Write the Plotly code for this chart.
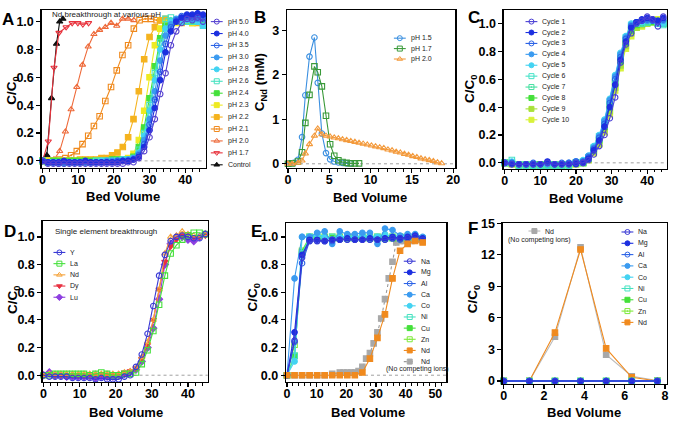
import plotly.graph_objects as go

W, H = 674, 423

# ---------------- Panel A data ----------------
A_x = [0,1.5,3,4.5,6,7.5,9,10.5,12,13.5,15,16.5,18,19.5,21,22.5,24,25.5,27,28.5,30,31.5,33,34.5,36,37.5,39,40.5,42,43.5,45]
A_ph50 = [0,-0.02,-0.02,-0.02,-0.02,-0.02,-0.02,-0.02,-0.02,-0.02,-0.02,-0.02,-0.02,-0.02,-0.02,-0.02,
          -0.01,-0.01,0.02,0.07,0.17,0.30,0.48,0.63,0.83,0.93,0.99,1.02,1.01,1.03,1.00]
A_ph40 = [0,-0.01,-0.01,-0.01,0,-0.01,-0.01,-0.01,0,-0.01,-0.01,-0.01,-0.01,-0.01,-0.01,0,
          0,0.01,0.03,0.10,0.22,0.38,0.58,0.78,0.93,1.00,1.03,1.05,1.05,1.06,1.05]
A_ph35 = [0,-0.01,-0.01,-0.02,-0.01,-0.01,-0.01,-0.01,-0.01,-0.01,-0.01,-0.01,-0.01,-0.01,0,0,
          0,0.01,0.04,0.12,0.26,0.44,0.64,0.84,0.96,1.01,1.04,1.04,1.04,1.03,1.03]
A_ph30 = [0,-0.01,-0.01,-0.01,-0.01,-0.01,-0.01,-0.01,-0.01,-0.01,-0.01,-0.01,0,0,0,0,
          0.01,0.02,0.05,0.15,0.30,0.50,0.72,0.90,0.98,1.02,1.03,1.03,1.02,1.02,1.02]
A_ph28 = [0,-0.01,-0.01,-0.01,-0.02,-0.01,-0.01,-0.01,-0.01,-0.01,-0.01,0,0,0,0,0.01,
          0.01,0.02,0.06,0.18,0.36,0.58,0.80,0.95,1.00,1.01,1.00,1.01,1.01,1.00,0.97]
A_ph26 = [0,-0.01,-0.01,-0.01,-0.01,-0.01,-0.01,-0.01,-0.01,-0.01,0,0,0,0,0,0.01,
          0.01,0.02,0.08,0.20,0.40,0.63,0.85,1.02,1.03,1.01,1.00,1.00,1.00,1.00,0.97]
A_ph24 = [0,-0.01,0,0,-0.01,0,0,0,0,0,0,0,0,0.01,0.01,0.01,
          0.01,0.03,0.10,0.24,0.45,0.68,0.88,0.97,1.00,1.01,1.00,1.01,1.00,1.00,1.00]
A_ph23 = [0,0,0,0,0,0,0,0,0,0,0,0,0,0,0.01,0.01,
          0.02,0.05,0.15,0.36,0.60,0.83,0.95,0.99,1.00,0.99,1.00,1.00,0.99,1.00,0.99]
A_ph22 = [0,0,0,0,0,0,0,0.01,0.01,0.01,0.01,0.02,0.02,0.04,0.06,0.10,
          0.17,0.30,0.50,0.73,0.89,0.96,1.01,1.02,1.00,1.00,0.99,1.00,0.99,0.99,0.99]
A_ph21_x = [0,1.6,3.2,4.8,6.4,8.0,9.6,11.2,12.8,14.4,16.0,17.6,19.2,20.8,22.4,24.0,25.6,27.2,28.8,30.4,32.0,33.6]
A_ph21 = [0,0,0,0.01,0.02,0.04,0.07,0.12,0.18,0.25,0.32,0.43,0.53,0.65,0.76,0.83,0.95,1.01,1.02,1.02,1.01,1.01]
A_ph20_x = [0,1.6,3.2,4.8,6.4,8.0,9.6,11.2,12.8,14.4,16.0,17.6,19.2,20.8,22.4,24.0,25.6]
A_ph20 = [0,0,0.01,0.07,0.21,0.37,0.53,0.69,0.82,0.91,0.94,0.96,0.99,0.97,1.02,1.02,1.01]
A_ph17_x = [0,1.6,3.2,4.6,6.6,8.3,9.9,11.3,12.9]
A_ph17 = [0,0.14,0.67,0.92,0.96,0.99,0.99,0.98,0.99]
A_ctrl_x = [0,1.2,2.5,3.9,4.8,5.7]
A_ctrl = [0,0.04,0.45,0.84,1.00,1.02]
A_names = ["pH 5.0","pH 4.0","pH 3.5","pH 3.0","pH 2.8","pH 2.6","pH 2.4","pH 2.3","pH 2.2","pH 2.1","pH 2.0","pH 1.7","Control"]

# ---------------- Panel B data ----------------
B_15_x = [0,0.3,0.7,1.2,1.7,2.1,2.6,3.2,3.6,4.1,4.6,5.1,5.6,6.1,6.6,7.1,7.6]
B_15 = [0,0.01,0.02,0.09,0.60,1.54,2.41,2.84,1.82,0.68,0.24,0.10,0.05,0.03,0.02,0.01,0.01]
B_17_x = [0,0.5,1.2,1.7,2.1,2.6,3.2,3.6,4.1,4.6,5.1,5.6,6.1,6.6,7.1,7.6,8.1,8.6]
B_17 = [0,0.01,0.05,0.26,0.92,1.55,2.19,2.06,1.74,1.08,0.44,0.18,0.08,0.04,0.02,0.01,0.01,0.01]
B_20_x = [0,0.5,1.2,1.7,2.1,2.6,3.2,3.6,4.1,4.6,5.1,5.6,6.1,6.6,7.1,7.6,8.1,8.6,9.1,9.6,10.1,10.6,
          11.1,11.6,12.1,12.6,13.1,13.6,14.1,14.6,15.1,15.6,16.1,16.6,17.1,17.6,18.1,18.6]
B_20 = [0,0,0.02,0.07,0.23,0.44,0.63,0.79,0.66,0.63,0.61,0.59,0.57,0.55,0.53,0.51,0.49,0.47,0.45,0.43,
        0.41,0.39,0.37,0.35,0.32,0.30,0.27,0.25,0.22,0.20,0.17,0.15,0.12,0.10,0.08,0.06,0.03,0.01]
B_names = ["pH 1.5","pH 1.7","pH 2.0"]

# ---------------- Panel C data ----------------
C_x = [0,2,4,6,8,10,12,14,16,18,20,22,23.5,25,26.5,28,29.5,31,32.5,34,35.5,37,38.5,40,41.5,43,44.5]
C_c1 = [0,-0.01,-0.01,-0.01,-0.01,-0.01,0,-0.01,-0.01,-0.01,0,0, 0.02,0.06,0.12,0.20,0.32,0.47,0.72,0.85,0.93,1.00,1.02,1.05,1.03,0.98,1.05]
C_c2 = [0,-0.01,-0.01,-0.01,-0.01,-0.01,0.01,-0.01,-0.01,-0.01,-0.01,0, 0.03,0.09,0.16,0.26,0.40,0.56,0.74,0.87,0.97,1.01,1.03,1.04,1.03,1.02,1.04]
C_c3 = [0,0,-0.01,-0.01,0,-0.01,0,-0.01,0,0,0.01,0.01, 0.04,0.10,0.18,0.28,0.43,0.60,0.76,0.89,0.98,1.01,1.02,1.03,1.02,1.02,1.03]
C_c4 = [0,0,-0.01,-0.01,-0.01,-0.01,-0.01,-0.01,-0.01,0,0.01,0.01, 0.05,0.11,0.19,0.30,0.45,0.62,0.78,0.90,0.99,1.01,1.02,1.02,1.02,1.01,1.02]
C_c5 = [0,0.01,-0.01,-0.01,-0.01,-0.01,-0.01,-0.01,-0.01,-0.01,0.01,0.02, 0.05,0.12,0.20,0.31,0.46,0.63,0.79,0.91,1.00,1.01,1.01,1.02,1.02,1.00,1.00]
C_c6 = [0,0.02,-0.02,-0.02,-0.02,-0.02,-0.02,-0.02,-0.02,-0.02,0,0.01, 0.04,0.11,0.19,0.29,0.44,0.61,0.77,0.90,0.99,1.00,1.00,1.01,1.02,1.00,0.99]
C_c7 = [0,0,-0.01,-0.01,-0.01,-0.02,-0.01,-0.01,-0.02,-0.01,0,0, 0.03,0.10,0.17,0.27,0.42,0.59,0.75,0.88,0.97,1.00,1.01,1.01,1.02,1.01,1.00]
C_c8 = [0,0,-0.01,-0.01,-0.01,-0.01,-0.01,-0.01,-0.01,-0.01,0,0, 0.03,0.09,0.16,0.26,0.40,0.57,0.73,0.86,0.95,0.99,1.00,1.01,1.01,1.00,1.00]
C_c9 = [0,-0.01,-0.02,-0.02,-0.02,-0.02,-0.02,-0.02,-0.02,-0.02,-0.01,0, 0.02,0.08,0.14,0.24,0.37,0.54,0.70,0.84,0.93,0.97,0.99,1.00,1.02,1.02,1.00]
C_c10 = [0,-0.01,-0.02,-0.02,-0.02,-0.02,-0.02,-0.02,-0.02,-0.02,-0.01,0, 0.02,0.07,0.13,0.22,0.35,0.52,0.68,0.82,0.91,0.97,0.98,1.00,1.01,1.03,1.00]
C_names = ["Cycle 1","Cycle 2","Cycle 3","Cycle 4","Cycle 5","Cycle 6","Cycle 7","Cycle 8","Cycle 9","Cycle 10"]

# ---------------- Panel D data ----------------
D_x = [0,1.6,3.2,4.8,6.4,8.0,9.6,11.2,12.8,14.4,16.0,17.6,19.2,20.8,22.4,24.0,25.6,27.2,28.8,30.4,32.0,33.6,35.2,36.8,38.4,40.0,41.6,43.2,44.8]
D_Y = [0,-0.01,-0.01,-0.01,-0.01,-0.02,-0.02,-0.02,-0.02,-0.03,-0.02,-0.03,-0.03,-0.03,-0.01,0.00,
       0.06,0.15,0.30,0.50,0.72,0.87,0.97,1.00,1.01,1.00,0.99,0.99,1.02]
D_La = [0,0,0.01,0.01,0.01,0.01,0.01,0.01,0,0.01,0.02,0.01,0,0,0.01,0.01,
        0.02,0.08,0.18,0.32,0.51,0.72,0.88,0.94,0.98,1.01,1.03,1.03,1.02]
D_Nd = [0,0.01,0.01,0.01,0.01,0.01,0.01,0.01,0.01,0.01,0.01,0.01,0.01,0.01,0.02,0.03,
        0.05,0.13,0.24,0.40,0.62,0.88,1.00,1.01,1.04,1.02,1.01,1.00,1.02]
D_Dy = [0,0.01,0,0,0,0,0,0,0.01,0,0.01,0,0.01,0.01,0.02,0.03,
        0.05,0.12,0.22,0.40,0.62,0.82,0.93,0.98,1.01,1.02,1.00,1.00,1.01]
D_Lu = [0,0.02,0,0,-0.01,-0.01,-0.01,-0.01,-0.01,-0.02,-0.01,-0.01,-0.01,0,0.01,0.02,
        0.04,0.10,0.20,0.34,0.55,0.80,0.95,1.00,1.00,0.98,0.97,1.00,1.02]
D_names = ["Y","La","Nd","Dy","Lu"]

# ---------------- Panel E data ----------------
E_x = [0,2.54,5.08,7.62,10.16,12.7,15.24,17.78,20.32,22.86,25.4,27.94,30.48,33.02,35.56,38.1,40.64,43.18,45.72]
E_Na = [0,0.25,0.85,0.97,0.97,0.97,0.98,0.98,0.98,0.98,0.98,0.98,0.98,0.98,0.99,0.99,0.99,1.00,0.98]
E_Mg = [0,0.31,0.87,0.98,0.98,0.97,0.98,0.98,0.99,0.98,0.98,0.99,0.98,0.99,1.00,0.99,1.00,1.01,0.99]
E_Al = [0,0.24,0.81,0.97,0.97,0.97,0.97,0.98,0.98,0.98,0.98,0.98,0.98,0.98,0.99,0.98,0.99,0.99,0.98]
E_Ca = [0,0.70,1.00,1.00,1.03,1.04,0.95,1.04,1.02,1.02,1.03,1.03,0.95,1.06,1.05,1.01,1.02,1.02,1.00]
E_Co = [0,0.10,1.00,1.00,1.02,1.00,0.98,1.00,1.00,1.00,1.01,1.00,1.00,1.02,1.00,1.00,1.01,1.00,0.99]
E_Ni = [0,0.14,0.88,1.00,1.00,0.99,1.00,0.99,1.00,0.99,1.00,0.99,1.00,0.99,1.00,1.00,0.99,1.00,0.99]
E_Cu = [0,0.14,0.89,0.99,0.99,0.99,0.99,0.99,0.99,0.99,0.99,0.99,0.99,0.99,0.99,0.99,0.99,0.99,0.99]
E_Zn = [0,0.22,0.90,1.00,1.00,1.00,1.00,1.00,1.00,1.00,1.00,1.00,1.00,1.00,1.00,1.00,1.00,1.00,0.99]
E_Nd = [0,0,0,0,0,0,0,0,0,0,0.02,0.12,0.27,0.44,0.70,0.90,0.95,0.97,0.96]
E_Nd0_x = [0,2.54,5.08,7.62,10.16,12.7,15.24,17.78,19.05,20.32,21.59,22.86,24.13,25.4,26.67,27.94,29.21,30.48,
           31.75,33.02,34.29,35.56,36.83,38.1,39.37,40.64,41.91,43.18,44.45,45.72]
E_Nd0 = [0,0,0,0,0,0,0.01,0.02,0.02,0.02,0.02,0.02,0.03,0.06,0.12,0.16,0.23,0.31,0.41,0.55,0.70,0.82,0.96,
         0.97,0.97,0.98,0.97,0.98,0.98,0.97]
E_names = ["Na","Mg","Al","Ca","Co","Ni","Cu","Zn","Nd","Nd"]

# ---------------- Panel F data ----------------
F_x = [0,1.27,2.54,3.81,5.08,6.35,7.62]
F_metal = [0,0,0,0,0,0,0]
F_Nd = [0,0,4.6,12.5,3.1,0.35,0.0]
F_Nd0 = [0,0,4.2,12.7,2.5,0.45,0.05]
F_names = ["Na","Mg","Al","Ca","Co","Ni","Cu","Zn","Nd"]

# ---------------- styles ----------------
A_sty = [("#5540D0","circle-open"),("#1C2FE0","circle"),("#2C63E6","circle-open-dot"),("#3B9BF0","circle"),
         ("#43D3F2","circle"),("#45E2C0","square-open"),("#44E03A","square"),("#EEEA22","square"),
         ("#F5B31E","square"),("#F08A1E","square-open-dot"),("#EE6A3A","triangle-up-open"),
         ("#E8323C","triangle-down-open"),("#111111","triangle-up")]
B_sty = [("#3A8FE0","circle-open"),("#3A9A3A","square-open"),("#F39A3C","triangle-up-open")]
C_sty = [("#4A3FD5","circle-open"),("#1C2FE0","circle"),("#2C63E6","circle-open-dot"),("#3B9BF0","circle"),
         ("#43D3F2","circle"),("#45E2C8","square-open"),("#45E0A0","square-open-dot"),("#44E03A","square"),
         ("#A8E23A","square"),("#D8F23A","square")]
D_sty = [("#3A3AD5","circle-open"),("#44E03A","square-open"),("#F5A33A","triangle-up-open"),
         ("#E83040","triangle-down"),("#8E3FE0","diamond")]
E_sty = [("#3A3AD5","circle-open"),("#1C2FE0","circle"),("#2C63E6","circle-open-dot"),("#3B9BF0","circle"),
         ("#43D3F2","circle"),("#45E2C0","square-open"),("#44E03A","square"),("#7EEA3A","square-open-dot"),
         ("#F08A1E","square")]
GRAY = "#A8A8A8"

FONT = "Liberation Sans"
fig = go.Figure()

# panel frames in pixels: (left, top, right, bottom), and data ranges / ticks
panels = {
    "A": dict(box=(40, 3, 206, 165), xr=[-0.28, 45.8], yr=[-0.049, 1.084],
              xt=[0, 10, 20, 30, 40], yt=[0, 0.2, 0.4, 0.6, 0.8, 1.0], xm=2, yfmt="%.1f"),
    "B": dict(box=(288, 3, 458, 165), xr=[-0.12, 20.25], yr=[-0.088, 3.46],
              xt=[0, 5, 10, 15, 20], yt=[0, 1, 2, 3], xm=1, yfmt="%d"),
    "C": dict(box=(507, 3, 672, 166), xr=[-0.28, 45.56], yr=[-0.042, 1.098],
              xt=[0, 10, 20, 30, 40], yt=[0, 0.2, 0.4, 0.6, 0.8, 1.0], xm=2, yfmt="%.1f"),
    "D": dict(box=(41, 220, 208, 385), xr=[-0.27, 45.5], yr=[-0.049, 1.113],
              xt=[0, 10, 20, 30, 40], yt=[0, 0.2, 0.4, 0.6, 0.8, 1.0], xm=2, yfmt="%.1f"),
    "E": dict(box=(287, 222, 449, 385), xr=[-0.33, 53.7], yr=[-0.049, 1.099],
              xt=[0, 10, 20, 30, 40, 50], yt=[0, 0.2, 0.4, 0.6, 0.8, 1.0], xm=2, yfmt="%.1f"),
    "F": dict(box=(506, 222, 672, 387), xr=[-0.05, 8.1], yr=[-0.28, 15.0],
              xt=[0, 2, 4, 6, 8], yt=[0, 3, 6, 9, 12, 15], xm=0.5, yfmt="%d"),
}
axid = {"A": "", "B": "2", "C": "3", "D": "4", "E": "5", "F": "6"}

layout_axes = {}
for k, p in panels.items():
    l, t, r, b = p["box"]
    i = axid[k]
    common = dict(showgrid=False, zeroline=False, showline=True, linecolor="black", linewidth=1.3,
                  mirror=True, ticks="outside", ticklen=4, tickwidth=1.2, tickcolor="black",
                  tickfont=dict(family=FONT, size=12.5, color="black"))
    layout_axes["xaxis" + i] = dict(common, domain=[l / W, r / W], range=p["xr"], anchor="y" + i,
                                    tickmode="array", tickvals=p["xt"], ticklabelstandoff=-4,
                                    ticktext=["<b>%d</b>" % v for v in p["xt"]],
                                    minor=dict(ticks="outside", ticklen=2.5, tickwidth=1, dtick=p["xm"], tick0=0))
    layout_axes["yaxis" + i] = dict(common, domain=[1 - b / H, 1 - t / H], range=p["yr"], anchor="x" + i,
                                    tickmode="array", tickvals=p["yt"], ticklabelstandoff=0,
                                    ticktext=["<b>" + (p["yfmt"] % v) + "</b>" for v in p["yt"]])
# overlay pixel axes for legends
layout_axes["xaxis7"] = dict(domain=[0, 1], range=[0, W], visible=False, anchor="y7", fixedrange=True)
layout_axes["yaxis7"] = dict(domain=[0, 1], range=[H, 0], visible=False, anchor="x7", fixedrange=True)


def add_series(panel, x, y, color, symbol, size=5.5, dash="solid", lw=1.1, lcolor=None):
    i = axid[panel]
    fig.add_trace(go.Scatter(
        x=x, y=y, mode="lines+markers", xaxis="x" + i, yaxis="y" + i, showlegend=False, cliponaxis=False,
        line=dict(color=lcolor or color, width=lw, dash=dash),
        marker=dict(color=color, symbol=symbol, size=size, line=dict(color=color, width=1.1))))


annotations = []
shapes = []


def legend_entry(px, py, color, symbol, text, size=5, dash="solid", lcolor=None):
    fig.add_trace(go.Scatter(
        x=[px - 6, px + 6], y=[py, py], mode="lines", xaxis="x7", yaxis="y7",
        showlegend=False, cliponaxis=False, hoverinfo="skip",
        line=dict(color=lcolor or color, width=1.1, dash=dash)))
    fig.add_trace(go.Scatter(
        x=[px], y=[py], mode="markers", xaxis="x7", yaxis="y7",
        showlegend=False, cliponaxis=False, hoverinfo="skip",
        marker=dict(color=color, symbol=symbol, size=size, line=dict(color=color, width=1))))
    if text:
        annotations.append(dict(x=(px + 9) / W, y=1 - py / H, xref="paper", yref="paper", text=text,
                                showarrow=False, xanchor="left", yanchor="middle",
                                font=dict(family=FONT, size=7, color="#222")))


def txt(px, py, text, size, bold=False, angle=0, anchor="center", color="black"):
    annotations.append(dict(x=px / W, y=1 - py / H, xref="paper", yref="paper",
                            text=("<b>%s</b>" % text) if bold else text, showarrow=False,
                            xanchor=anchor, yanchor="middle", textangle=angle,
                            font=dict(family=FONT, size=size, color=color)))


def zero_line(panel, x1):
    i = axid[panel]
    shapes.append(dict(type="line", xref="x" + i, yref="y" + i, x0=0, x1=x1, y0=0, y1=0,
                       line=dict(color="#888", width=0.8, dash="dot"), layer="below"))


# ---------- Panel A ----------
zero_line("A", 45.5)
A_series = [(A_x, A_ph50), (A_x, A_ph40), (A_x, A_ph35), (A_x, A_ph30), (A_x, A_ph28), (A_x, A_ph26),
            (A_x, A_ph24), (A_x, A_ph23), (A_x, A_ph22), (A_ph21_x, A_ph21), (A_ph20_x, A_ph20),
            (A_ph17_x, A_ph17), (A_ctrl_x, A_ctrl)]
for (x, y), (c, s) in reversed(list(zip(A_series, A_sty))):
    add_series("A", x, y, c, s)
for j, (name, (c, s)) in enumerate(zip(A_names, A_sty)):
    legend_entry(217, 15 + j * 12.25, c, s, name)
txt(49, 8, "Nd breakthrough at various pH", 8, anchor="left", color="#222")

# ---------- Panel B ----------
zero_line("B", 20)
for (x, y), (c, s) in zip([(B_15_x, B_15), (B_17_x, B_17), (B_20_x, B_20)], B_sty):
    add_series("B", x, y, c, s)
for j, (name, (c, s)) in enumerate(zip(B_names, B_sty)):
    legend_entry(402, 32 + j * 10.7, c, s, name)

# ---------- Panel C ----------
zero_line("C", 45.5)
C_series = [C_c1, C_c2, C_c3, C_c4, C_c5, C_c6, C_c7, C_c8, C_c9, C_c10]
for y, (c, s) in reversed(list(zip(C_series, C_sty))):
    add_series("C", C_x, y, c, s)
for j, (name, (c, s)) in enumerate(zip(C_names, C_sty)):
    legend_entry(535, 15 + j * 11.2, c, s, name)

# ---------- Panel D ----------
zero_line("D", 45.5)
D_series = [D_Y, D_La, D_Nd, D_Dy, D_Lu]
for y, (c, s) in reversed(list(zip(D_series, D_sty))):
    add_series("D", D_x, y, c, s)
for j, (name, (c, s)) in enumerate(zip(D_names, D_sty)):
    legend_entry(58, 252 + j * 11.5, c, s, name)
txt(52, 231, "Single element breakthrough", 8, anchor="left", color="#222")

# ---------- Panel E ----------
zero_line("E", 53.7)
E_series = [E_Na, E_Mg, E_Al, E_Ca, E_Co, E_Ni, E_Cu, E_Zn, E_Nd]
add_series("E", E_Nd0_x, E_Nd0, GRAY, "square", dash="dot", lcolor="#999")
for y, (c, s) in reversed(list(zip(E_series[:8], E_sty[:8]))):
    add_series("E", E_x, y, c, s)
add_series("E", E_x, E_series[8], E_sty[8][0], E_sty[8][1])
for j, (name, (c, s)) in enumerate(zip(E_names[:9], E_sty)):
    legend_entry(412, 261 + j * 11.45, c, s, name)
legend_entry(412, 261 + 9 * 11.45, GRAY, "square", E_names[9], dash="dot", lcolor="#999")
txt(420, 372, "(No competing ions)", 7, color="#222")

# ---------- Panel F ----------
add_series("F", F_x, F_Nd0, GRAY, "square", lcolor="#bbb")
add_series("F", F_x, F_Nd, E_sty[8][0], E_sty[8][1])
for c, s in reversed(E_sty[:8]):
    add_series("F", F_x, F_metal, c, s)
for j, (name, (c, s)) in enumerate(zip(F_names, E_sty)):
    legend_entry(632, 231 + j * 11.6, c, s, name)
legend_entry(538, 230, GRAY, "square", "Nd", lcolor="#bbb")
txt(543, 239, "(No competing ions)", 7, color="#222")

# ---------- panel letters & axis titles ----------
for letter, px, py in [("A", 6, 13), ("B", 261, 11), ("C", 477, 11), ("D", 8, 230), ("E", 257, 230), ("F", 476, 227)]:
    txt(px, py, letter, 17, bold=True)
for px, py in [(122, 195), (372, 196), (590, 197), (125, 416), (370, 416), (588, 416)]:
    txt(px, py, "Bed Volume", 13, bold=True)
for px, py in [(11, 85), (474, 84), (11, 300), (254, 298), (476, 300)]:
    txt(px, py, "C/C<sub>0</sub>", 13.5, bold=True, angle=-90)
txt(262, 77, "C<sub>Nd</sub> (mM)", 13.5, bold=True, angle=-90)

fig.update_layout(width=W, height=H, margin=dict(l=0, r=0, t=0, b=0), autosize=False,
                  plot_bgcolor="rgba(0,0,0,0)", paper_bgcolor="white", showlegend=False,
                  annotations=annotations, shapes=shapes, **layout_axes)
fig.write_html("out.html", config={"displayModeBar": False, "staticPlot": True},
               post_script="document.body.style.margin='0px';document.body.style.overflow='hidden';")
